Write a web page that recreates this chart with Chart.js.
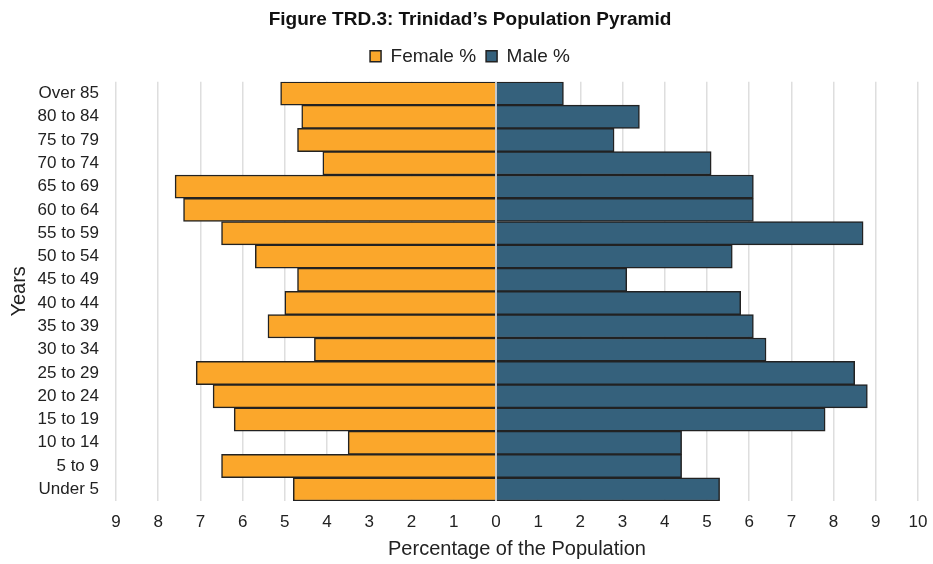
<!DOCTYPE html>
<html>
<head>
<meta charset="utf-8">
<script src="https://cdn.jsdelivr.net/npm/chart.js@4"></script>
<style>
  html, body { margin: 0; padding: 0; background: #fff; }
  #wrap { width: 933px; height: 564px; }
</style>
</head>
<body>
<div id="wrap"><canvas id="myChart" width="933" height="564"></canvas></div>
<script>
// age groups, top to bottom
const ageGroups = ['Over 85', '80 to 84', '75 to 79', '70 to 74', '65 to 69', '60 to 64', '55 to 59',
  '50 to 54', '45 to 49', '40 to 44', '35 to 39', '30 to 34', '25 to 29', '20 to 24', '15 to 19',
  '10 to 14', '5 to 9', 'Under 5'];

// percentages
const femalePct = [5.1, 4.6, 4.7, 4.1, 7.6, 7.4, 6.5, 5.7, 4.7, 5.0, 5.4, 4.3, 7.1, 6.7, 6.2, 3.5, 6.5, 4.8];
const malePct = [1.6, 3.4, 2.8, 5.1, 6.1, 6.1, 8.7, 5.6, 3.1, 5.8, 6.1, 6.4, 8.5, 8.8, 7.8, 4.4, 4.4, 5.3];

const axisMin = -9;
const axisMax = 10;

Chart.defaults.font.family = '"Liberation Sans", Arial, sans-serif';
Chart.defaults.color = '#222';

// light line at 0 drawn over the bars
const zeroLine = {
  id: 'zeroLine',
  afterDatasetsDraw(chart) {
    const { ctx, chartArea, scales } = chart;
    const x = scales.x.getPixelForValue(0);
    ctx.save();
    ctx.strokeStyle = '#c8c8c8';
    ctx.lineWidth = 1.5;
    ctx.beginPath();
    ctx.moveTo(x, chartArea.top);
    ctx.lineTo(x, chartArea.bottom);
    ctx.stroke();
    ctx.restore();
  }
};

// a bit more room under the legend
const legendGap = {
  id: 'legendGap',
  beforeInit(chart) {
    const fit = chart.legend.fit;
    chart.legend.fit = function () {
      fit.bind(chart.legend)();
      this.height += 6;
    };
  }
};

new Chart(document.getElementById('myChart').getContext('2d'), {
  type: 'bar',
  data: {
    labels: ageGroups,
    datasets: [
      {
        label: 'Female %',
        data: femalePct.map(v => -v),
        backgroundColor: '#FBA72B',
        borderColor: '#222',
        borderWidth: 1.5,
        categoryPercentage: 1,
        barPercentage: 1
      },
      {
        label: 'Male %',
        data: malePct,
        backgroundColor: '#35617C',
        borderColor: '#222',
        borderWidth: 1.5,
        categoryPercentage: 1,
        barPercentage: 1
      }
    ]
  },
  options: {
    indexAxis: 'y',
    responsive: false,
    animation: false,
    layout: { padding: { left: 7, right: 0, top: 8, bottom: 0 } },
    plugins: {
      title: {
        display: true,
        text: 'Figure TRD.3: Trinidad\u2019s Population Pyramid',
        font: { size: 19, weight: 'bold' },
        color: '#111',
        padding: { top: 0, bottom: 6 }
      },
      legend: {
        position: 'top',
        labels: {
          boxWidth: 11,
          boxHeight: 11,
          font: { size: 19 },
          color: '#222',
          padding: 10
        }
      },
      tooltip: { enabled: false }
    },
    scales: {
      x: {
        stacked: true,
        min: axisMin,
        max: axisMax,
        afterFit(scale) {
          scale.height = 63;
          scale.paddingRight = 15;
        },
        ticks: {
          stepSize: 1,
          font: { size: 17 },
          color: '#222',
          padding: 11,
          callback: v => Math.abs(v)
        },
        grid: { color: '#dedede', lineWidth: 1.5, drawTicks: false },
        border: { display: false },
        title: {
          display: true,
          text: 'Percentage of the Population',
          font: { size: 20 },
          color: '#222',
          padding: { top: 0, bottom: 3 }
        }
      },
      y: {
        stacked: true,
        afterFit(scale) { scale.width = 109; },
        ticks: { font: { size: 17 }, color: '#222', padding: 9, autoSkip: false },
        grid: { display: false },
        border: { display: false },
        title: {
          display: true,
          text: 'Years',
          font: { size: 20 },
          color: '#222',
          padding: { top: 0, bottom: 0 }
        }
      }
    }
  },
  plugins: [zeroLine, legendGap]
});
</script>
</body>
</html>
